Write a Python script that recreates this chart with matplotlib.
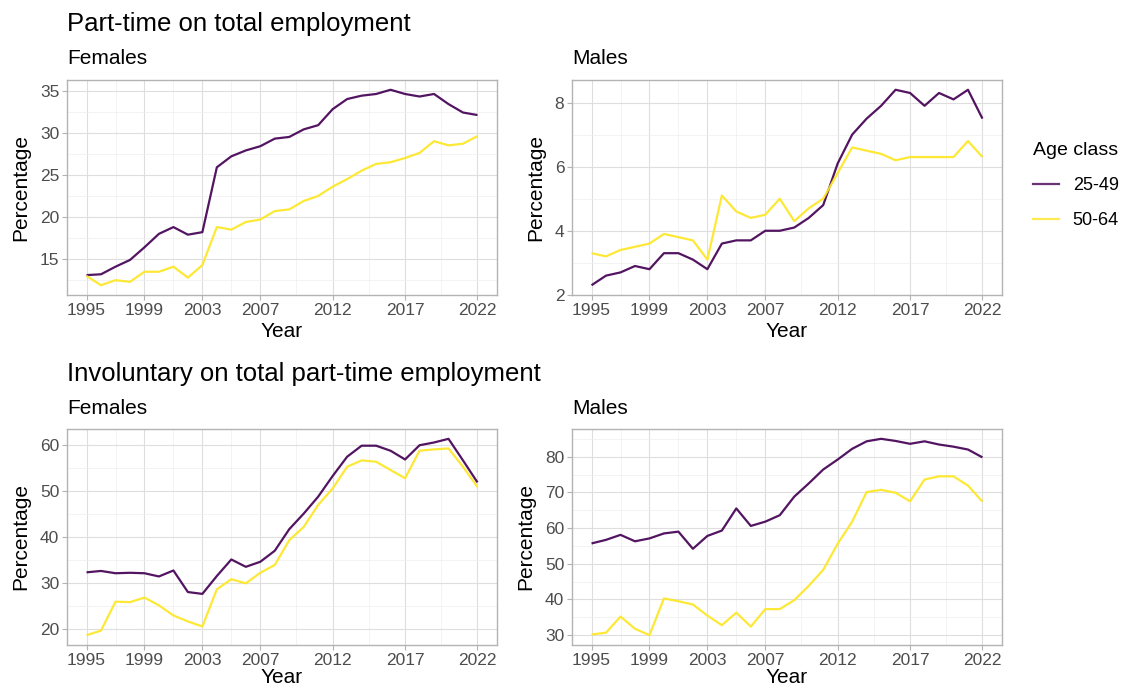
import numpy as np
import matplotlib
matplotlib.use("Agg")
from matplotlib import pyplot as plt
from matplotlib.ticker import FixedLocator, MultipleLocator

plt.rcParams['font.family'] = ['Liberation Sans', 'DejaVu Sans']

years = list(range(1995, 2023))
age_classes = ['25-49', '50-64']
colors = ['#440154', '#FDE725']

# part-time share of total employment (%)
pt_females_2549 = [13.1, 13.2, 14.1, 14.9, 16.4, 18.0, 18.8, 17.9, 18.2, 25.9, 27.2, 27.9, 28.4, 29.3,
                   29.5, 30.4, 30.9, 32.8, 34.0, 34.4, 34.6, 35.1, 34.6, 34.3, 34.6, 33.4, 32.4, 32.1]
pt_females_5064 = [13.0, 11.9, 12.5, 12.3, 13.5, 13.5, 14.1, 12.8, 14.3, 18.8, 18.5, 19.4, 19.7, 20.7,
                   20.9, 21.9, 22.5, 23.6, 24.5, 25.5, 26.3, 26.5, 27.0, 27.6, 29.0, 28.5, 28.7, 29.6]
pt_males_2549 = [2.3, 2.6, 2.7, 2.9, 2.8, 3.3, 3.3, 3.1, 2.8, 3.6, 3.7, 3.7, 4.0, 4.0,
                 4.1, 4.4, 4.8, 6.1, 7.0, 7.5, 7.9, 8.4, 8.3, 7.9, 8.3, 8.1, 8.4, 7.5]
pt_males_5064 = [3.3, 3.2, 3.4, 3.5, 3.6, 3.9, 3.8, 3.7, 3.1, 5.1, 4.6, 4.4, 4.5, 5.0,
                 4.3, 4.7, 5.0, 5.8, 6.6, 6.5, 6.4, 6.2, 6.3, 6.3, 6.3, 6.3, 6.8, 6.3]

# involuntary share of total part-time employment (%)
inv_females_2549 = [32.3, 32.6, 32.1, 32.2, 32.1, 31.4, 32.7, 28.0, 27.6, 31.5, 35.1, 33.5, 34.6, 37.0,
                    41.7, 45.1, 48.8, 53.3, 57.5, 59.9, 59.9, 58.8, 56.9, 60.0, 60.6, 61.4, 56.7, 51.9]
inv_females_5064 = [18.6, 19.6, 25.9, 25.8, 26.8, 25.1, 22.9, 21.6, 20.5, 28.6, 30.8, 29.9, 32.2, 33.9,
                    39.3, 42.2, 47.0, 50.6, 55.3, 56.7, 56.4, 54.6, 52.8, 58.8, 59.1, 59.3, 55.3, 50.9]
inv_males_2549 = [55.7, 56.7, 58.1, 56.3, 57.1, 58.5, 59.0, 54.2, 57.8, 59.3, 65.5, 60.6, 61.8, 63.6,
                  68.8, 72.5, 76.4, 79.2, 82.2, 84.3, 85.0, 84.4, 83.6, 84.3, 83.4, 82.8, 82.0, 79.8]
inv_males_5064 = [30.2, 30.7, 35.2, 31.8, 30.0, 40.3, 39.5, 38.6, 35.5, 32.8, 36.3, 32.4, 37.3, 37.3,
                  39.8, 43.8, 48.3, 55.6, 61.8, 70.1, 70.7, 69.9, 67.5, 73.6, 74.5, 74.5, 71.9, 67.4]

year_ticks = [1995, 1999, 2003, 2007, 2012, 2017, 2022]

W, H = 1125, 688
fig = plt.figure(figsize=(W / 100, H / 100), dpi=100)


def px_axes(x0, y0, x1, y1):
    return fig.add_axes([x0 / W, 1 - y1 / H, (x1 - x0) / W, (y1 - y0) / H])


def style(ax, series, yticks, ystep, xpad=3):
    for vals, col in zip(series, colors):
        ax.plot(years, vals, color=col, lw=1.6, alpha=0.92, solid_capstyle='butt')
    allv = np.concatenate([np.array(v) for v in series])
    lo, hi = allv.min(), allv.max()
    pad = (hi - lo) * 0.05
    ax.set_ylim(lo - pad, hi + pad)
    ax.set_xlim(1995 - 27 * 0.05, 2022 + 27 * 0.05)
    ax.xaxis.set_major_locator(FixedLocator(year_ticks))
    mids = [(a + b) / 2 for a, b in zip(year_ticks[:-1], year_ticks[1:])]
    ax.xaxis.set_minor_locator(FixedLocator(mids))
    ax.set_yticks(yticks)
    ax.yaxis.set_minor_locator(MultipleLocator(ystep / 2))
    ax.grid(which='major', color='#dedede', lw=0.8)
    ax.grid(which='minor', color='#eeeeee', lw=0.5)
    ax.set_axisbelow(True)
    for s in ax.spines.values():
        s.set_color('#b3b3b3')
        s.set_linewidth(1.0)
    ax.tick_params(which='major', length=3.5, width=0.8, color='#b3b3b3',
                   labelcolor='#4d4d4d', labelsize=12.5, pad=2)
    ax.tick_params(which='minor', length=0)
    ax.set_xlabel('Year', fontsize=15, labelpad=xpad)
    ax.set_ylabel('Percentage', fontsize=15, labelpad=7)


ax1 = px_axes(67, 80, 497, 295)
style(ax1, [pt_females_2549, pt_females_5064], [15, 20, 25, 30, 35], 5)
ax2 = px_axes(572, 80, 1002, 295)
style(ax2, [pt_males_2549, pt_males_5064], [2, 4, 6, 8], 2)
ax3 = px_axes(67, 429, 497, 645)
style(ax3, [inv_females_2549, inv_females_5064], [20, 30, 40, 50, 60], 10, xpad=0.5)
ax4 = px_axes(572, 429, 1002, 645)
style(ax4, [inv_males_2549, inv_males_5064], [30, 40, 50, 60, 70, 80], 10, xpad=0.5)

fig.text(67 / W, 1 - 24 / H, 'Part-time on total employment', fontsize=18.5, va='center', ha='left')
fig.text(67 / W, 1 - 374 / H, 'Involuntary on total part-time employment', fontsize=18.5,
         va='center', ha='left')
for x, y, t in [(67, 58, 'Females'), (572, 58, 'Males'), (67, 408, 'Females'), (572, 408, 'Males')]:
    fig.text(x / W, 1 - y / H, t, fontsize=15, va='center', ha='left')

# shared legend on the right
handles = [plt.Line2D([], [], color=c, lw=1.6, alpha=0.8) for c in colors]
fig.legend(handles, age_classes, title='Age class', loc='upper left',
           bbox_to_anchor=(1033 / W, 1 - 142 / H), frameon=False, fontsize=13,
           title_fontsize=14, handlelength=1.45, labelspacing=1.0, handletextpad=0.75,
           borderpad=0, borderaxespad=0, alignment='left')

fig.savefig('out.png', dpi=100)
